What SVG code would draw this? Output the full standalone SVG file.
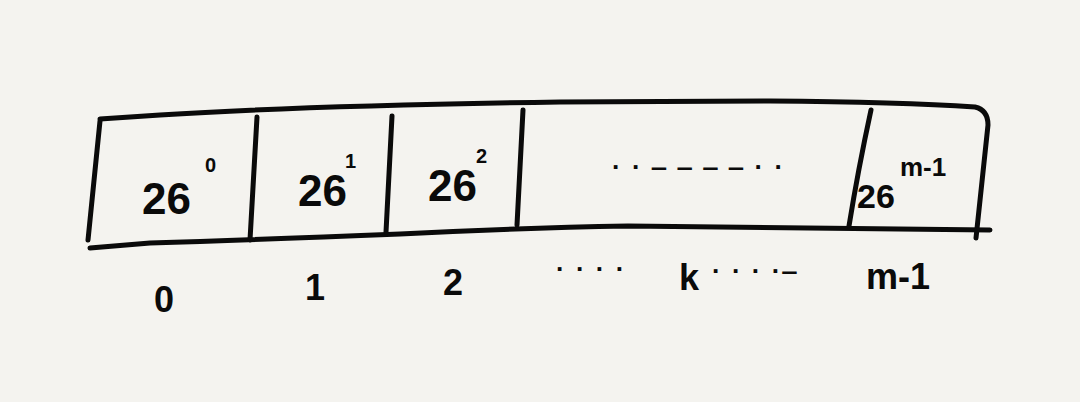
<svg xmlns="http://www.w3.org/2000/svg" width="1080" height="402" viewBox="0 0 1080 402">
<style>
.ln{fill:none;stroke:#0a0a0a;stroke-width:5;stroke-linecap:round;stroke-linejoin:round}
.t{font-family:"Liberation Sans","DejaVu Sans",sans-serif;fill:#0a0a0a;font-weight:bold}
.big{font-size:44px}
.sup{font-size:20px}
.lab{font-size:36px}
.dot{font-size:26px;letter-spacing:2px}
</style>
<rect width="1080" height="402" fill="#f4f3ef"/>
<g id="array">
<path class="ln" d="M100,119 L160,115 Q300,106 560,102 L770,101 Q900,102 975,107 Q988,110 988,125 L976,238"/>
<path class="ln" d="M100,121 L88,240"/>
<path class="ln" d="M90,248 L150,243 Q250,240 400,234 Q520,228 628,226 L990,230"/>
</g>
<g id="dividers">
<path class="ln" d="M257,117 L250,240"/>
<path class="ln" d="M392,116 L386,232"/>
<path class="ln" d="M523,110 L517,225"/>
<path class="ln" d="M871,110 Q858,170 849,226"/>
</g>
<g id="cell0"><text class="t big" x="142" y="214">26</text><text class="t sup" x="205" y="172">0</text></g>
<g id="cell1"><text class="t big" x="298" y="206">26</text><text class="t sup" x="345" y="168">1</text></g>
<g id="cell2"><text class="t big" x="428" y="201">26</text><text class="t sup" x="476" y="163">2</text></g>
<g id="cellk"><text class="t dot" x="612" y="176">· · ‒ ‒ ‒ ‒ · ·</text></g>
<g id="cellm"><text class="t" font-size="34" x="857" y="208">26</text><text class="t" font-size="26" x="900" y="176">m-1</text></g>
<g id="labels">
<text class="t lab" x="154" y="312">0</text>
<text class="t lab" x="305" y="300">1</text>
<text class="t lab" x="443" y="295">2</text>
<text class="t dot" x="556" y="278">· · · ·</text>
<text class="t lab" x="679" y="290">k</text>
<text class="t dot" x="712" y="280">· · · ·‒</text>
<text class="t lab" x="866" y="289">m-1</text>
</g>
</svg>
